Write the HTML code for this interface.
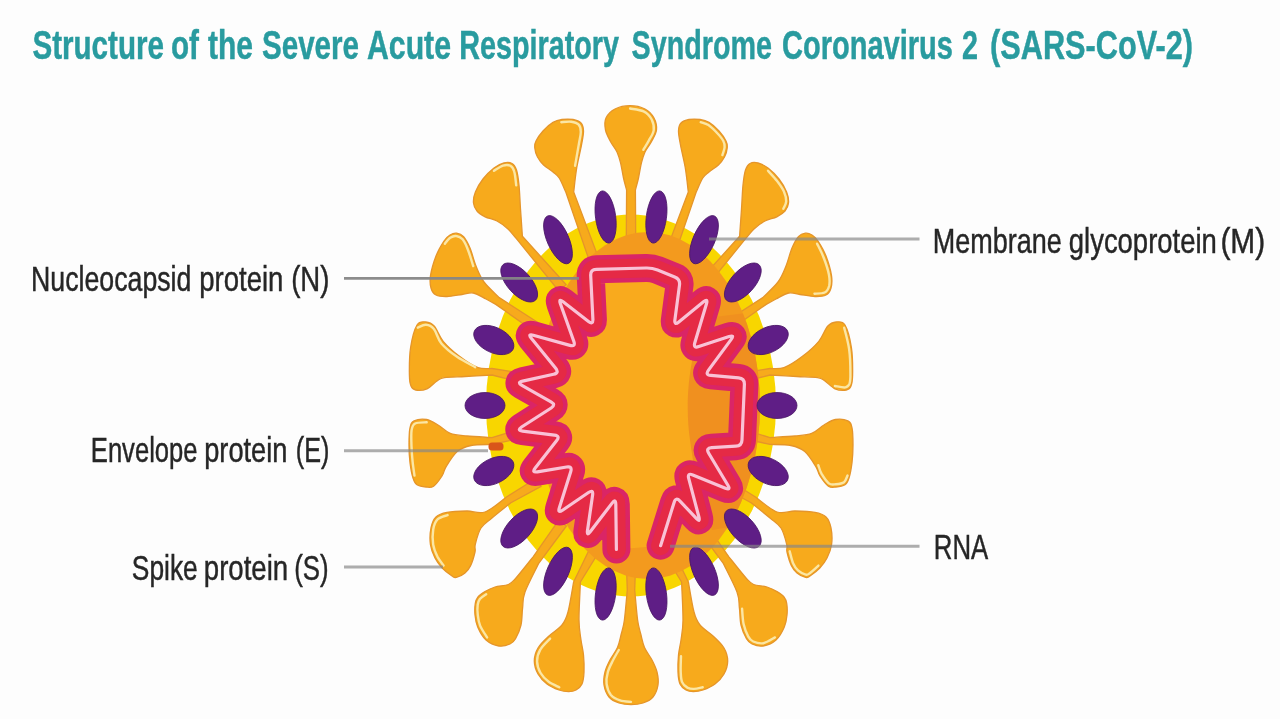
<!DOCTYPE html>
<html><head><meta charset="utf-8"><style>
html,body{margin:0;padding:0;background:#fdfdfd;}
body{width:1280px;height:719px;overflow:hidden;position:relative;}
svg{position:absolute;left:0;top:0;filter:blur(0.5px);}
.sp path{fill:#f7aa1c;stroke:#e5952a;stroke-width:1.3;stroke-linejoin:round;}
.sp path.hl{fill:none;stroke:#fbe6a4;stroke-width:2.4;stroke-linecap:round;stroke-linejoin:round;}
.pu ellipse{fill:#5f1e86;stroke:#4a1666;stroke-width:0.8;}
.lbl{font-family:"Liberation Sans",sans-serif;fill:#262626;stroke:#262626;stroke-width:0.45;font-size:34.5px;}
.ttl{font-family:"Liberation Sans",sans-serif;font-weight:bold;fill:#299b9f;stroke:#299b9f;stroke-width:0.5;font-size:41px;}
</style></head><body>
<svg width="1280" height="719" viewBox="0 0 1280 719">
<rect width="1280" height="719" fill="#fdfdfd"/>
<text class="ttl" x="32.4" y="58.5" textLength="131.6" lengthAdjust="spacingAndGlyphs">Structure</text>
<text class="ttl" x="171.0" y="58.5" textLength="28.0" lengthAdjust="spacingAndGlyphs">of</text>
<text class="ttl" x="208.0" y="58.5" textLength="45.0" lengthAdjust="spacingAndGlyphs">the</text>
<text class="ttl" x="262" y="58.5" textLength="97.0" lengthAdjust="spacingAndGlyphs">Severe</text>
<text class="ttl" x="367" y="58.5" textLength="84" lengthAdjust="spacingAndGlyphs">Acute</text>
<text class="ttl" x="459.2" y="58.5" textLength="159.8" lengthAdjust="spacingAndGlyphs">Respiratory</text>
<text class="ttl" x="631.6" y="58.5" textLength="140.4" lengthAdjust="spacingAndGlyphs">Syndrome</text>
<text class="ttl" x="782.0" y="58.5" textLength="171.0" lengthAdjust="spacingAndGlyphs">Coronavirus</text>
<text class="ttl" x="962" y="58.5" textLength="16.0" lengthAdjust="spacingAndGlyphs">2</text>
<text class="ttl" x="990" y="58.5" textLength="203.0" lengthAdjust="spacingAndGlyphs">(SARS-CoV-2)</text>
<defs><clipPath id="body"><ellipse cx="648" cy="405.5" rx="112" ry="173.5"/></clipPath></defs>
<g fill="#f8d600">
<ellipse cx="631.0" cy="405.5" rx="145" ry="191"/>
</g>
<g class="sp">
<path d="M 626.2 251.9 L 626.6 190.0 C 626.1 188.0 624.5 182.6 623.5 178.0 C 622.5 173.4 621.6 166.9 620.5 162.6 C 619.4 158.3 618.6 155.5 617.0 152.0 C 615.4 148.5 612.5 145.4 610.6 141.7 C 608.7 138.0 606.3 133.9 605.5 130.0 C 604.7 126.0 604.4 121.5 606.0 118.0 C 607.6 114.5 611.0 111.0 615.0 109.0 C 619.0 107.0 625.0 105.7 630.0 105.7 C 635.0 105.7 641.0 107.0 645.0 109.0 C 649.0 111.0 652.1 114.5 654.0 118.0 C 655.9 121.5 656.9 126.0 656.5 130.0 C 656.1 133.9 653.3 138.0 651.4 141.7 C 649.5 145.4 646.6 148.5 645.0 152.0 C 643.4 155.5 642.6 158.3 641.5 162.6 C 640.4 166.9 639.5 173.4 638.5 178.0 C 637.5 182.6 635.9 188.0 635.4 190.0 L 635.8 251.9 Z"/><path class="hl" d="M 630.1 108.5 C 632.3 109.0 640.0 109.6 643.6 111.4 C 647.2 113.2 650.0 116.4 651.7 119.5 C 653.3 122.7 654.2 126.8 653.7 130.3 C 653.2 133.9 650.5 137.4 648.8 140.6 C 647.1 143.9 644.2 148.3 643.3 149.8"/>
<path d="M 662.9 259.5 L 688.3 192.0 C 687.8 188.0 686.6 175.8 685.3 168.0 C 684.0 160.2 681.6 151.2 680.5 145.0 C 679.4 138.8 678.4 134.7 678.5 131.0 C 678.6 127.3 679.2 124.9 681.0 123.0 C 682.8 121.1 685.8 120.1 689.0 119.5 C 692.2 118.9 696.7 119.0 700.0 119.5 C 703.3 120.0 705.8 120.5 709.0 122.4 C 712.2 124.3 716.2 127.9 719.0 131.0 C 721.8 134.1 724.6 138.2 726.0 141.0 C 727.4 143.8 727.5 145.3 727.2 148.0 C 727.0 150.7 726.0 154.2 724.5 157.0 C 723.0 159.8 721.0 162.5 718.4 165.0 C 715.8 167.5 711.6 169.8 709.0 172.0 C 706.4 174.2 704.9 174.7 702.8 178.0 C 700.7 181.3 697.3 189.7 696.2 192.0 L 672.0 262.8 Z"/><path class="hl" d="M 700.7 122.2 C 702.0 122.7 705.7 123.4 708.4 125.1 C 711.0 126.8 714.1 129.9 716.6 132.5 C 719.1 135.1 721.9 138.4 723.2 140.8 C 724.5 143.2 724.7 144.6 724.6 147.0 C 724.5 149.4 722.8 153.8 722.4 155.1"/>
<path d="M 695.8 284.7 L 739.6 236.3 C 739.9 231.8 740.9 217.6 741.5 209.0 C 742.1 200.4 742.3 191.5 743.0 185.0 C 743.7 178.5 744.3 173.6 745.5 170.0 C 746.7 166.4 747.9 164.7 750.0 163.5 C 752.1 162.3 755.0 162.2 758.0 163.0 C 761.0 163.8 764.5 165.3 768.0 168.0 C 771.5 170.7 775.9 175.0 779.0 179.0 C 782.1 183.0 785.0 188.0 786.6 192.0 C 788.2 196.0 788.8 199.8 788.5 203.0 C 788.2 206.2 787.0 208.7 785.0 211.0 C 783.0 213.3 780.1 215.1 776.8 216.8 C 773.5 218.5 768.8 219.0 765.0 221.0 C 761.2 223.0 757.1 226.2 754.0 229.0 C 750.9 231.8 747.7 236.2 746.4 237.7 L 703.1 291.0 Z"/><path class="hl" d="M 768.0 170.8 C 769.4 172.5 774.2 177.4 776.9 180.8 C 779.5 184.2 782.3 188.0 783.9 191.5 C 785.4 194.9 786.3 198.5 786.2 201.4 C 786.1 204.3 783.8 207.5 783.3 208.8"/>
<path d="M 720.6 324.7 L 762.8 297.6 C 765.3 295.0 774.1 287.3 778.0 282.0 C 781.9 276.7 783.7 271.7 786.0 266.0 C 788.3 260.3 789.9 252.9 792.0 248.0 C 794.1 243.1 796.2 239.2 798.4 236.7 C 800.6 234.2 803.1 233.5 805.4 233.2 C 807.7 232.9 809.9 233.7 812.0 235.0 C 814.1 236.3 815.7 237.5 818.0 241.0 C 820.3 244.5 823.8 250.2 826.0 256.0 C 828.2 261.8 830.7 270.3 831.5 275.6 C 832.3 280.9 831.9 284.8 831.0 288.0 C 830.1 291.2 828.7 293.6 826.0 295.0 C 823.3 296.4 819.3 296.6 815.0 296.5 C 810.7 296.4 804.4 295.1 800.0 294.5 C 795.6 293.9 792.7 292.2 788.7 293.0 C 784.7 293.8 779.8 297.1 776.0 299.0 C 772.2 300.9 767.8 303.5 766.2 304.4 L 726.0 332.7 Z"/><path class="hl" d="M 817.1 243.7 C 818.2 246.0 821.7 252.4 823.6 257.5 C 825.6 262.6 828.0 269.7 828.9 274.5 C 829.8 279.2 829.8 283.0 829.1 286.0 C 828.3 289.0 827.1 291.3 824.6 292.5 C 822.2 293.8 816.2 293.5 814.5 293.7"/>
<path d="M 735.0 374.1 L 770.0 368.5 C 772.3 368.4 778.6 369.6 784.0 367.6 C 789.4 365.6 796.7 360.7 802.5 356.3 C 808.3 351.9 814.6 346.3 818.8 341.3 C 823.0 336.3 824.7 329.5 827.6 326.3 C 830.5 323.1 833.4 322.2 836.3 322.0 C 839.2 321.8 842.5 320.8 845.0 325.0 C 847.5 329.2 850.1 339.2 851.4 347.5 C 852.7 355.8 852.7 368.6 852.6 375.0 C 852.5 381.4 852.0 383.5 851.0 386.0 C 850.0 388.5 849.0 389.5 846.3 390.0 C 843.6 390.5 838.5 390.3 835.0 388.8 C 831.5 387.3 827.9 382.9 825.0 381.0 C 822.1 379.1 822.3 378.4 817.6 377.6 C 812.9 376.9 804.9 376.9 797.0 376.5 C 789.1 376.1 774.5 375.2 770.0 375.0 L 736.9 383.5 Z"/><path class="hl" d="M 844.2 327.7 C 845.0 331.2 848.1 341.5 849.1 349.1 C 850.2 356.7 850.4 367.5 850.4 373.2 C 850.5 379.0 850.3 381.3 849.5 383.6 C 848.6 386.0 847.7 387.0 845.3 387.4 C 842.8 387.8 836.6 386.2 834.9 386.0"/>
<path d="M 737.1 427.5 L 770.0 437.6 C 774.2 437.3 788.0 436.7 795.0 436.0 C 802.0 435.3 806.9 435.2 811.7 433.4 C 816.5 431.6 820.0 427.3 824.0 425.0 C 828.0 422.7 831.4 420.2 835.4 419.5 C 839.4 418.8 845.1 419.5 847.9 420.9 C 850.7 422.3 851.1 423.8 852.0 427.8 C 852.9 431.8 853.0 439.2 853.0 445.0 C 853.0 450.8 852.7 457.1 852.0 462.6 C 851.3 468.1 850.2 474.3 849.0 478.0 C 847.8 481.7 847.2 483.3 845.0 484.8 C 842.8 486.3 838.8 486.8 836.0 487.0 C 833.2 487.2 831.1 488.0 828.4 486.2 C 825.7 484.4 822.1 479.2 820.0 476.0 C 817.9 472.8 818.5 470.9 816.0 466.8 C 813.5 462.7 809.0 455.1 804.8 451.5 C 800.6 447.9 796.7 446.7 790.9 445.5 C 785.1 444.3 773.5 444.6 770.0 444.4 L 734.7 436.8 Z"/><path class="hl" d="M 847.5 475.6 C 846.9 476.7 846.0 480.7 844.0 482.2 C 842.1 483.6 838.3 484.0 835.8 484.2 C 833.3 484.4 831.3 485.2 828.9 483.4 C 826.5 481.7 823.3 476.7 821.5 473.7 C 819.8 470.6 818.9 466.6 818.3 465.2"/>
<path d="M 725.7 478.2 L 755.9 497.3 C 759.4 499.7 770.5 509.7 777.0 512.0 C 783.5 514.3 788.7 510.9 795.0 511.0 C 801.3 511.1 809.8 511.4 815.0 512.4 C 820.2 513.4 823.3 514.4 826.0 517.0 C 828.7 519.6 830.1 523.5 831.0 528.0 C 831.9 532.5 832.3 539.3 831.6 544.3 C 830.9 549.3 829.0 554.0 827.0 558.0 C 825.0 562.0 822.6 565.0 819.8 568.0 C 817.0 571.0 812.4 574.4 810.0 576.0 C 807.6 577.6 807.8 577.9 805.6 577.4 C 803.4 576.9 799.4 575.0 797.0 573.0 C 794.6 571.0 793.1 569.1 791.4 565.6 C 789.7 562.1 787.8 555.5 787.0 552.0 C 786.2 548.5 787.7 548.3 786.7 544.3 C 785.7 540.3 783.8 532.4 781.0 528.0 C 778.2 523.6 775.0 522.2 770.0 518.0 C 765.0 513.8 754.3 505.3 751.1 502.7 L 720.9 486.4 Z"/><path class="hl" d="M 818.4 565.6 C 817.0 566.9 811.9 571.7 809.8 573.2 C 807.7 574.7 807.7 575.1 805.8 574.6 C 803.8 574.1 800.1 572.3 798.0 570.4 C 795.9 568.5 794.6 566.7 793.2 563.5 C 791.8 560.3 790.3 553.3 789.7 551.3"/>
<path d="M 703.4 520.4 L 728.7 556.6 C 731.6 560.2 741.9 573.4 746.0 578.0 C 750.1 582.6 750.1 583.0 753.6 584.5 C 757.1 586.0 763.1 585.8 767.0 587.0 C 770.9 588.2 774.2 589.9 777.0 591.6 C 779.8 593.3 782.4 595.0 784.0 597.0 C 785.6 599.0 786.2 600.4 786.7 603.4 C 787.2 606.4 787.4 611.1 787.0 615.0 C 786.6 618.9 786.1 622.8 784.3 627.0 C 782.5 631.2 779.5 636.8 776.0 640.0 C 772.5 643.2 767.0 645.3 763.0 646.0 C 759.0 646.7 754.8 645.2 752.0 644.0 C 749.2 642.8 748.3 642.0 746.5 638.8 C 744.7 635.6 742.2 630.1 741.0 625.0 C 739.8 619.9 740.1 613.5 739.4 608.0 C 738.7 602.5 739.7 599.4 737.0 592.0 C 734.3 584.6 725.6 568.2 723.3 563.4 L 695.6 526.0 Z"/><path class="hl" d="M 774.9 637.4 C 773.0 638.4 766.9 642.5 763.3 643.2 C 759.7 643.9 755.7 642.6 753.2 641.5 C 750.8 640.4 749.9 639.6 748.3 636.7 C 746.7 633.8 744.7 628.7 743.6 624.0 C 742.6 619.4 742.3 611.3 742.1 608.8"/>
<path d="M 671.7 547.5 L 688.4 582.0 C 689.3 587.0 692.1 604.8 694.0 612.0 C 695.9 619.2 696.8 621.0 700.0 625.0 C 703.2 629.0 709.0 632.2 713.0 636.0 C 717.0 639.8 721.5 643.8 724.0 648.0 C 726.5 652.2 727.7 656.7 727.7 661.0 C 727.7 665.3 726.1 670.2 724.0 674.0 C 721.9 677.8 718.5 681.3 715.0 684.0 C 711.5 686.7 706.6 688.7 703.0 690.0 C 699.4 691.3 696.1 691.6 693.3 691.6 C 690.5 691.6 688.2 691.3 686.0 690.0 C 683.8 688.7 681.3 687.0 680.0 684.0 C 678.7 681.0 678.2 676.8 678.0 672.0 C 677.8 667.2 678.0 660.3 678.5 655.0 C 679.0 649.7 680.2 645.8 681.0 640.0 C 681.8 634.2 682.9 629.7 683.0 620.0 C 683.1 610.3 681.8 588.3 681.6 582.0 L 663.2 552.1 Z"/><path class="hl" d="M 702.7 687.2 C 701.2 687.5 696.6 688.8 694.0 688.9 C 691.5 689.0 689.4 688.7 687.4 687.6 C 685.4 686.4 683.2 684.8 682.1 682.1 C 680.9 679.4 680.9 675.5 680.7 671.2 C 680.5 666.9 681.0 658.7 681.0 656.2"/>
<path d="M 635.8 559.1 L 634.7 590.0 C 635.2 595.0 636.6 612.5 637.6 620.0 C 638.6 627.5 639.9 630.4 641.0 635.0 C 642.1 639.6 642.7 643.3 644.5 647.5 C 646.3 651.7 649.9 655.9 652.0 660.0 C 654.1 664.1 656.0 667.8 657.0 672.0 C 658.0 676.2 658.7 680.8 658.0 685.0 C 657.3 689.2 655.5 694.0 653.0 697.0 C 650.5 700.0 646.7 701.7 643.0 703.0 C 639.3 704.3 635.0 704.7 631.0 704.7 C 627.0 704.7 622.7 704.3 619.0 703.0 C 615.3 701.7 611.5 700.0 609.0 697.0 C 606.5 694.0 604.7 689.2 604.0 685.0 C 603.3 680.8 604.0 676.2 605.0 672.0 C 606.0 667.8 607.9 664.1 610.0 660.0 C 612.1 655.9 615.7 651.7 617.5 647.5 C 619.3 643.3 619.9 639.6 621.0 635.0 C 622.1 630.4 623.4 627.5 624.4 620.0 C 625.4 612.5 626.8 595.0 627.3 590.0 L 626.2 559.1 Z"/><path class="hl" d="M 631.0 701.9 C 629.2 701.7 623.4 701.6 620.1 700.4 C 616.7 699.3 613.2 697.7 610.9 695.0 C 608.7 692.2 607.1 687.7 606.6 683.9 C 606.1 680.1 606.8 675.9 607.8 672.2 C 608.8 668.4 610.5 665.2 612.4 661.5 C 614.2 657.8 617.7 651.9 618.8 650.0"/>
<path d="M 590.0 262.8 L 565.8 192.0 C 564.7 189.7 561.3 181.3 559.2 178.0 C 557.1 174.7 555.6 174.2 553.0 172.0 C 550.4 169.8 546.2 167.5 543.6 165.0 C 541.0 162.5 539.0 159.8 537.5 157.0 C 536.0 154.2 535.0 150.7 534.8 148.0 C 534.5 145.3 534.6 143.8 536.0 141.0 C 537.4 138.2 540.2 134.1 543.0 131.0 C 545.8 127.9 549.8 124.3 553.0 122.4 C 556.2 120.5 558.7 120.0 562.0 119.5 C 565.3 119.0 569.8 118.9 573.0 119.5 C 576.2 120.1 579.2 121.1 581.0 123.0 C 582.8 124.9 583.4 127.3 583.5 131.0 C 583.6 134.7 582.6 138.8 581.5 145.0 C 580.4 151.2 578.0 160.2 576.7 168.0 C 575.4 175.8 574.2 188.0 573.7 192.0 L 599.1 259.5 Z"/><path class="hl" d="M 561.3 122.2 C 563.0 122.1 568.3 121.3 571.2 121.7 C 574.1 122.1 577.1 122.9 578.7 124.6 C 580.3 126.3 580.8 128.6 580.8 131.9 C 580.8 135.2 579.7 138.8 578.8 144.4 C 577.8 150.0 575.7 162.2 575.1 165.7"/>
<path d="M 558.9 291.0 L 515.6 237.7 C 514.3 236.2 511.1 231.8 508.0 229.0 C 504.9 226.2 500.8 223.0 497.0 221.0 C 493.2 219.0 488.5 218.5 485.2 216.8 C 481.9 215.1 478.9 213.3 477.0 211.0 C 475.1 208.7 473.8 206.2 473.5 203.0 C 473.2 199.8 473.8 196.0 475.4 192.0 C 477.0 188.0 479.9 183.0 483.0 179.0 C 486.1 175.0 490.5 170.7 494.0 168.0 C 497.5 165.3 501.0 163.8 504.0 163.0 C 507.0 162.2 509.9 162.3 512.0 163.5 C 514.1 164.7 515.3 166.4 516.5 170.0 C 517.7 173.6 518.3 178.5 519.0 185.0 C 519.7 191.5 519.9 200.4 520.5 209.0 C 521.1 217.6 522.1 231.8 522.4 236.3 L 566.2 284.7 Z"/><path class="hl" d="M 494.0 170.8 C 495.5 169.9 500.3 166.5 503.0 165.6 C 505.7 164.8 508.5 164.8 510.4 165.8 C 512.3 166.8 513.4 168.5 514.3 171.8 C 515.3 175.1 515.9 183.1 516.2 185.4"/>
<path d="M 536.0 332.7 L 495.8 304.4 C 494.2 303.5 489.8 300.9 486.0 299.0 C 482.2 297.1 477.3 293.8 473.3 293.0 C 469.3 292.2 466.4 293.9 462.0 294.5 C 457.6 295.1 451.3 296.4 447.0 296.5 C 442.7 296.6 438.7 296.4 436.0 295.0 C 433.3 293.6 431.9 291.2 431.0 288.0 C 430.1 284.8 429.7 280.9 430.5 275.6 C 431.3 270.3 433.8 261.8 436.0 256.0 C 438.2 250.2 441.7 244.5 444.0 241.0 C 446.3 237.5 447.9 236.3 450.0 235.0 C 452.1 233.7 454.3 232.9 456.6 233.2 C 458.9 233.5 461.4 234.2 463.6 236.7 C 465.8 239.2 467.9 243.1 470.0 248.0 C 472.1 252.9 473.7 260.3 476.0 266.0 C 478.3 271.7 480.1 276.7 484.0 282.0 C 487.9 287.3 496.7 295.0 499.2 297.6 L 541.4 324.7 Z"/><path class="hl" d="M 444.9 243.7 C 445.7 242.7 448.3 239.1 450.2 237.8 C 452.1 236.5 454.1 235.7 456.2 236.0 C 458.3 236.2 460.6 237.0 462.6 239.3 C 464.5 241.6 466.3 245.5 468.0 250.0 C 469.8 254.4 472.3 263.3 473.2 266.0"/>
<path d="M 525.1 383.5 L 492.0 375.0 C 487.5 375.2 472.9 376.1 465.0 376.5 C 457.1 376.9 449.1 376.9 444.4 377.6 C 439.7 378.4 439.9 379.1 437.0 381.0 C 434.1 382.9 430.6 387.3 427.0 388.8 C 423.4 390.3 418.4 390.5 415.7 390.0 C 413.0 389.5 412.1 388.5 411.0 386.0 C 409.9 383.5 409.5 381.4 409.4 375.0 C 409.3 368.6 409.3 355.8 410.6 347.5 C 411.9 339.2 414.5 329.2 417.0 325.0 C 419.5 320.8 422.8 321.8 425.7 322.0 C 428.6 322.2 431.5 323.1 434.4 326.3 C 437.3 329.5 439.0 336.3 443.2 341.3 C 447.4 346.3 453.7 351.9 459.5 356.3 C 465.3 360.7 472.6 365.6 478.0 367.6 C 483.4 369.6 489.7 368.4 492.0 368.5 L 527.0 374.1 Z"/><path class="hl" d="M 417.8 327.7 C 419.2 327.2 423.2 324.6 425.9 324.8 C 428.5 325.0 431.3 325.9 433.9 329.0 C 436.5 332.2 437.6 338.9 441.4 343.5 C 445.2 348.0 451.1 352.7 456.7 356.6 C 462.4 360.6 472.1 365.4 475.2 367.2"/>
<path d="M 527.3 436.8 L 492.0 444.4 C 488.5 444.6 476.9 444.3 471.1 445.5 C 465.3 446.7 461.4 447.9 457.2 451.5 C 453.0 455.1 448.5 462.7 446.0 466.8 C 443.5 470.9 444.1 472.8 442.0 476.0 C 439.9 479.2 436.3 484.4 433.6 486.2 C 430.9 488.0 428.8 487.2 426.0 487.0 C 423.2 486.8 419.2 486.3 417.0 484.8 C 414.8 483.3 414.2 481.7 413.0 478.0 C 411.8 474.3 410.7 468.1 410.0 462.6 C 409.3 457.1 409.0 450.8 409.0 445.0 C 409.0 439.2 409.1 431.8 410.0 427.8 C 410.9 423.8 411.3 422.3 414.1 420.9 C 416.9 419.5 422.6 418.8 426.6 419.5 C 430.6 420.2 434.1 422.7 438.0 425.0 C 441.9 427.3 445.5 431.6 450.3 433.4 C 455.1 435.2 460.1 435.3 467.0 436.0 C 473.9 436.7 487.8 437.3 492.0 437.6 L 524.9 427.5 Z"/><path class="hl" d="M 414.5 475.6 C 414.2 473.3 413.1 466.4 412.6 461.5 C 412.1 456.6 411.7 451.5 411.5 446.3 C 411.3 441.0 411.0 433.9 411.6 430.1 C 412.2 426.3 412.6 424.8 415.2 423.5 C 417.7 422.2 424.8 422.5 426.7 422.3"/>
<path d="M 541.1 486.4 L 510.9 502.7 C 507.7 505.3 497.0 513.8 492.0 518.0 C 487.0 522.2 483.8 523.6 481.0 528.0 C 478.2 532.4 476.3 540.3 475.3 544.3 C 474.3 548.3 475.8 548.5 475.0 552.0 C 474.2 555.5 472.3 562.1 470.6 565.6 C 468.9 569.1 467.4 571.0 465.0 573.0 C 462.6 575.0 458.6 576.9 456.4 577.4 C 454.2 577.9 454.4 577.6 452.0 576.0 C 449.6 574.4 445.0 571.0 442.2 568.0 C 439.4 565.0 437.0 562.0 435.0 558.0 C 433.0 554.0 431.1 549.3 430.4 544.3 C 429.7 539.3 430.1 532.5 431.0 528.0 C 431.9 523.5 433.3 519.6 436.0 517.0 C 438.7 514.4 441.8 513.4 447.0 512.4 C 452.2 511.4 460.7 511.1 467.0 511.0 C 473.3 510.9 478.5 514.3 485.0 512.0 C 491.5 509.7 502.6 499.7 506.1 497.3 L 536.3 478.2 Z"/><path class="hl" d="M 443.6 565.6 C 442.6 564.1 439.2 560.1 437.4 556.6 C 435.7 553.1 433.9 549.1 433.2 544.6 C 432.5 540.1 432.5 533.9 433.2 529.7 C 433.9 525.5 435.1 521.8 437.5 519.4 C 439.9 516.9 445.9 515.8 447.6 515.1"/>
<path d="M 566.4 526.0 L 538.7 563.4 C 536.4 568.2 527.7 584.6 525.0 592.0 C 522.3 599.4 523.3 602.5 522.6 608.0 C 521.9 613.5 522.2 619.9 521.0 625.0 C 519.8 630.1 517.3 635.6 515.5 638.8 C 513.7 642.0 512.8 642.8 510.0 644.0 C 507.2 645.2 503.0 646.7 499.0 646.0 C 495.0 645.3 489.6 643.2 486.0 640.0 C 482.4 636.8 479.5 631.2 477.7 627.0 C 475.9 622.8 475.4 618.9 475.0 615.0 C 474.6 611.1 474.8 606.4 475.3 603.4 C 475.8 600.4 476.4 599.0 478.0 597.0 C 479.6 595.0 482.2 593.3 485.0 591.6 C 487.8 589.9 491.1 588.2 495.0 587.0 C 498.9 585.8 504.9 586.0 508.4 584.5 C 511.9 583.0 511.9 582.6 516.0 578.0 C 520.1 573.4 530.4 560.2 533.3 556.6 L 558.6 520.4 Z"/><path class="hl" d="M 487.1 637.4 C 485.9 635.4 481.6 629.3 480.1 625.6 C 478.6 621.8 478.2 618.6 477.8 615.1 C 477.4 611.7 477.3 607.5 477.7 604.8 C 478.1 602.2 478.5 600.8 479.9 599.0 C 481.3 597.2 485.1 595.0 486.2 594.2"/>
<path d="M 598.8 552.1 L 580.4 582.0 C 580.2 588.3 578.9 610.3 579.0 620.0 C 579.1 629.7 580.2 634.2 581.0 640.0 C 581.8 645.8 583.0 649.7 583.5 655.0 C 584.0 660.3 584.2 667.2 584.0 672.0 C 583.8 676.8 583.3 681.0 582.0 684.0 C 580.7 687.0 578.2 688.7 576.0 690.0 C 573.8 691.3 571.5 691.6 568.7 691.6 C 565.9 691.6 562.6 691.3 559.0 690.0 C 555.4 688.7 550.5 686.7 547.0 684.0 C 543.5 681.3 540.1 677.8 538.0 674.0 C 535.9 670.2 534.3 665.3 534.3 661.0 C 534.3 656.7 535.5 652.2 538.0 648.0 C 540.5 643.8 545.0 639.8 549.0 636.0 C 553.0 632.2 558.8 629.0 562.0 625.0 C 565.2 621.0 566.1 619.2 568.0 612.0 C 569.9 604.8 572.7 587.0 573.6 582.0 L 590.3 547.5 Z"/><path class="hl" d="M 559.3 687.2 C 557.5 686.3 551.9 684.2 548.7 681.8 C 545.6 679.4 542.6 676.4 540.6 673.0 C 538.7 669.7 537.1 665.3 537.1 661.4 C 537.0 657.5 538.1 653.5 540.3 649.7 C 542.4 645.8 548.5 640.4 550.1 638.6"/>
</g>
<ellipse cx="648" cy="405.5" rx="112" ry="173.5" fill="#f39a1e"/>
<path d="M 616.4 549.5 L 615.8 504.3 Q 615.7 498.3 612.1 503.1 L 590.2 531.7 Q 586.6 536.5 587.5 530.6 L 592.6 495.0 Q 593.5 489.1 588.5 492.5 L 562.5 510.2 Q 557.5 513.6 559.3 507.9 L 570.7 471.7 Q 572.5 466.0 566.6 467.0 L 537.4 471.8 Q 531.5 472.8 535.2 468.1 L 556.7 440.6 Q 560.4 435.9 554.4 435.1 L 522.6 431.1 Q 516.6 430.3 521.6 427.0 L 551.2 408.0 Q 556.2 404.7 551.0 401.8 L 521.9 385.3 Q 516.7 382.4 522.6 381.1 L 553.6 374.3 Q 559.5 373.0 555.7 368.3 L 531.3 338.3 Q 527.5 333.6 533.3 335.2 L 570.0 345.4 Q 575.8 347.0 573.8 341.3 L 560.4 303.7 Q 558.4 298.0 563.1 301.7 L 588.5 321.4 Q 593.2 325.1 592.9 319.1 L 590.7 275.5 Q 590.4 269.5 596.4 269.3 L 646.0 268.0 Q 652.0 267.8 657.6 270.0 L 674.7 277.0 Q 680.3 279.2 679.5 285.1 L 674.9 319.9 Q 674.1 325.8 678.8 322.0 L 703.5 301.8 Q 708.2 298.0 706.5 303.7 L 694.8 342.8 Q 693.1 348.5 698.8 346.6 L 729.1 336.5 Q 734.8 334.6 731.2 339.4 L 708.5 370.1 Q 704.9 374.9 710.9 375.4 L 738.6 377.9 Q 744.6 378.4 744.4 384.4 L 742.0 439.9 Q 741.8 445.9 735.8 446.2 L 711.6 447.7 Q 705.6 448.0 708.7 453.2 L 727.9 485.3 Q 731.0 490.5 725.4 488.2 L 692.8 474.9 Q 687.2 472.6 688.7 478.4 L 698.9 517.0 Q 700.4 522.8 696.3 518.4 L 680.0 501.1 Q 675.9 496.7 674.1 502.4 L 660.6 545.7 Z" fill="#f9aa1d"/>
<path clip-path="url(#body)" d="M 706 318 C 690 350 684 400 690 440 C 694 470 700 500 712 530 L 770 520 L 770 310 Z" fill="#f0901f"/>
<path d="M 616.4 549.5 L 615.8 504.3 Q 615.7 498.3 612.1 503.1 L 590.2 531.7 Q 586.6 536.5 587.5 530.6 L 592.6 495.0 Q 593.5 489.1 588.5 492.5 L 562.5 510.2 Q 557.5 513.6 559.3 507.9 L 570.7 471.7 Q 572.5 466.0 566.6 467.0 L 537.4 471.8 Q 531.5 472.8 535.2 468.1 L 556.7 440.6 Q 560.4 435.9 554.4 435.1 L 522.6 431.1 Q 516.6 430.3 521.6 427.0 L 551.2 408.0 Q 556.2 404.7 551.0 401.8 L 521.9 385.3 Q 516.7 382.4 522.6 381.1 L 553.6 374.3 Q 559.5 373.0 555.7 368.3 L 531.3 338.3 Q 527.5 333.6 533.3 335.2 L 570.0 345.4 Q 575.8 347.0 573.8 341.3 L 560.4 303.7 Q 558.4 298.0 563.1 301.7 L 588.5 321.4 Q 593.2 325.1 592.9 319.1 L 590.7 275.5 Q 590.4 269.5 596.4 269.3 L 646.0 268.0 Q 652.0 267.8 657.6 270.0 L 674.7 277.0 Q 680.3 279.2 679.5 285.1 L 674.9 319.9 Q 674.1 325.8 678.8 322.0 L 703.5 301.8 Q 708.2 298.0 706.5 303.7 L 694.8 342.8 Q 693.1 348.5 698.8 346.6 L 729.1 336.5 Q 734.8 334.6 731.2 339.4 L 708.5 370.1 Q 704.9 374.9 710.9 375.4 L 738.6 377.9 Q 744.6 378.4 744.4 384.4 L 742.0 439.9 Q 741.8 445.9 735.8 446.2 L 711.6 447.7 Q 705.6 448.0 708.7 453.2 L 727.9 485.3 Q 731.0 490.5 725.4 488.2 L 692.8 474.9 Q 687.2 472.6 688.7 478.4 L 698.9 517.0 Q 700.4 522.8 696.3 518.4 L 680.0 501.1 Q 675.9 496.7 674.1 502.4 L 660.6 545.7" fill="none" stroke="#da2566" stroke-width="28" stroke-linejoin="round" stroke-linecap="round"/>
<path d="M 616.4 549.5 L 615.8 504.3 Q 615.7 498.3 612.1 503.1 L 590.2 531.7 Q 586.6 536.5 587.5 530.6 L 592.6 495.0 Q 593.5 489.1 588.5 492.5 L 562.5 510.2 Q 557.5 513.6 559.3 507.9 L 570.7 471.7 Q 572.5 466.0 566.6 467.0 L 537.4 471.8 Q 531.5 472.8 535.2 468.1 L 556.7 440.6 Q 560.4 435.9 554.4 435.1 L 522.6 431.1 Q 516.6 430.3 521.6 427.0 L 551.2 408.0 Q 556.2 404.7 551.0 401.8 L 521.9 385.3 Q 516.7 382.4 522.6 381.1 L 553.6 374.3 Q 559.5 373.0 555.7 368.3 L 531.3 338.3 Q 527.5 333.6 533.3 335.2 L 570.0 345.4 Q 575.8 347.0 573.8 341.3 L 560.4 303.7 Q 558.4 298.0 563.1 301.7 L 588.5 321.4 Q 593.2 325.1 592.9 319.1 L 590.7 275.5 Q 590.4 269.5 596.4 269.3 L 646.0 268.0 Q 652.0 267.8 657.6 270.0 L 674.7 277.0 Q 680.3 279.2 679.5 285.1 L 674.9 319.9 Q 674.1 325.8 678.8 322.0 L 703.5 301.8 Q 708.2 298.0 706.5 303.7 L 694.8 342.8 Q 693.1 348.5 698.8 346.6 L 729.1 336.5 Q 734.8 334.6 731.2 339.4 L 708.5 370.1 Q 704.9 374.9 710.9 375.4 L 738.6 377.9 Q 744.6 378.4 744.4 384.4 L 742.0 439.9 Q 741.8 445.9 735.8 446.2 L 711.6 447.7 Q 705.6 448.0 708.7 453.2 L 727.9 485.3 Q 731.0 490.5 725.4 488.2 L 692.8 474.9 Q 687.2 472.6 688.7 478.4 L 698.9 517.0 Q 700.4 522.8 696.3 518.4 L 680.0 501.1 Q 675.9 496.7 674.1 502.4 L 660.6 545.7" fill="none" stroke="#e52a45" stroke-width="19" stroke-linejoin="round" stroke-linecap="round"/>
<path d="M 616.4 549.5 L 615.8 504.3 Q 615.7 498.3 612.1 503.1 L 590.2 531.7 Q 586.6 536.5 587.5 530.6 L 592.6 495.0 Q 593.5 489.1 588.5 492.5 L 562.5 510.2 Q 557.5 513.6 559.3 507.9 L 570.7 471.7 Q 572.5 466.0 566.6 467.0 L 537.4 471.8 Q 531.5 472.8 535.2 468.1 L 556.7 440.6 Q 560.4 435.9 554.4 435.1 L 522.6 431.1 Q 516.6 430.3 521.6 427.0 L 551.2 408.0 Q 556.2 404.7 551.0 401.8 L 521.9 385.3 Q 516.7 382.4 522.6 381.1 L 553.6 374.3 Q 559.5 373.0 555.7 368.3 L 531.3 338.3 Q 527.5 333.6 533.3 335.2 L 570.0 345.4 Q 575.8 347.0 573.8 341.3 L 560.4 303.7 Q 558.4 298.0 563.1 301.7 L 588.5 321.4 Q 593.2 325.1 592.9 319.1 L 590.7 275.5 Q 590.4 269.5 596.4 269.3 L 646.0 268.0 Q 652.0 267.8 657.6 270.0 L 674.7 277.0 Q 680.3 279.2 679.5 285.1 L 674.9 319.9 Q 674.1 325.8 678.8 322.0 L 703.5 301.8 Q 708.2 298.0 706.5 303.7 L 694.8 342.8 Q 693.1 348.5 698.8 346.6 L 729.1 336.5 Q 734.8 334.6 731.2 339.4 L 708.5 370.1 Q 704.9 374.9 710.9 375.4 L 738.6 377.9 Q 744.6 378.4 744.4 384.4 L 742.0 439.9 Q 741.8 445.9 735.8 446.2 L 711.6 447.7 Q 705.6 448.0 708.7 453.2 L 727.9 485.3 Q 731.0 490.5 725.4 488.2 L 692.8 474.9 Q 687.2 472.6 688.7 478.4 L 698.9 517.0 Q 700.4 522.8 696.3 518.4 L 680.0 501.1 Q 675.9 496.7 674.1 502.4 L 660.6 545.7" fill="none" stroke="#f9c2d6" stroke-width="3.2" stroke-linejoin="round" stroke-linecap="round"/>
<g class="pu">
<ellipse cx="656.4" cy="217.0" rx="10.1" ry="26.3" transform="rotate(7.7 656.4 217.0)"/>
<ellipse cx="704.0" cy="239.7" rx="10.8" ry="25.9" transform="rotate(23.8 704.0 239.7)"/>
<ellipse cx="742.8" cy="282.5" rx="11.8" ry="24.1" transform="rotate(42.3 742.8 282.5)"/>
<ellipse cx="768.2" cy="340.0" rx="12.6" ry="21.4" transform="rotate(64.5 768.2 340.0)"/>
<ellipse cx="777.0" cy="405.5" rx="13.0" ry="20.0" transform="rotate(90.0 777.0 405.5)"/>
<ellipse cx="768.2" cy="471.0" rx="12.6" ry="21.4" transform="rotate(115.5 768.2 471.0)"/>
<ellipse cx="742.8" cy="528.5" rx="11.8" ry="24.1" transform="rotate(137.7 742.8 528.5)"/>
<ellipse cx="704.0" cy="571.3" rx="10.8" ry="25.9" transform="rotate(156.2 704.0 571.3)"/>
<ellipse cx="656.4" cy="594.0" rx="10.1" ry="26.3" transform="rotate(172.3 656.4 594.0)"/>
<ellipse cx="605.6" cy="594.0" rx="10.1" ry="26.3" transform="rotate(187.7 605.6 594.0)"/>
<ellipse cx="558.0" cy="571.3" rx="10.8" ry="25.9" transform="rotate(203.8 558.0 571.3)"/>
<ellipse cx="519.2" cy="528.5" rx="11.8" ry="24.1" transform="rotate(222.3 519.2 528.5)"/>
<ellipse cx="493.8" cy="471.0" rx="12.6" ry="21.4" transform="rotate(244.5 493.8 471.0)"/>
<ellipse cx="485.0" cy="405.5" rx="13.0" ry="20.0" transform="rotate(270.0 485.0 405.5)"/>
<ellipse cx="493.8" cy="340.0" rx="12.6" ry="21.4" transform="rotate(-64.5 493.8 340.0)"/>
<ellipse cx="519.2" cy="282.5" rx="11.8" ry="24.1" transform="rotate(-42.3 519.2 282.5)"/>
<ellipse cx="558.0" cy="239.7" rx="10.8" ry="25.9" transform="rotate(-23.8 558.0 239.7)"/>
<ellipse cx="605.6" cy="217.0" rx="10.1" ry="26.3" transform="rotate(-7.7 605.6 217.0)"/>
</g>
<rect x="488.5" y="442.5" width="15" height="8" rx="3.5" fill="#d9551a"/>
<g stroke="#868686" stroke-width="3" stroke-opacity="0.68">
<line x1="344" y1="278.4" x2="579" y2="278.4" stroke-opacity="0.95" stroke-width="2.6"/>
<line x1="709" y1="239" x2="919.5" y2="239"/>
<line x1="344" y1="450.8" x2="488" y2="450.8"/>
<line x1="344" y1="567" x2="443" y2="567"/>
<line x1="670" y1="546.2" x2="919.5" y2="546.2"/>
</g>
<text class="lbl" x="31.0" y="290.6" textLength="160.4" lengthAdjust="spacingAndGlyphs">Nucleocapsid</text>
<text class="lbl" x="199.2" y="290.6" textLength="84.2" lengthAdjust="spacingAndGlyphs">protein</text>
<text class="lbl" x="291.2" y="290.6" textLength="38.2" lengthAdjust="spacingAndGlyphs">(N)</text>
<text class="lbl" x="90.8" y="461.6" textLength="106.8" lengthAdjust="spacingAndGlyphs">Envelope</text>
<text class="lbl" x="204.2" y="461.6" textLength="83.2" lengthAdjust="spacingAndGlyphs">protein</text>
<text class="lbl" x="295.8" y="461.6" textLength="33.6" lengthAdjust="spacingAndGlyphs">(E)</text>
<text class="lbl" x="131.8" y="580" textLength="66.0" lengthAdjust="spacingAndGlyphs">Spike</text>
<text class="lbl" x="203.8" y="580" textLength="84.4" lengthAdjust="spacingAndGlyphs">protein</text>
<text class="lbl" x="294.2" y="580" textLength="34.4" lengthAdjust="spacingAndGlyphs">(S)</text>
<text class="lbl" x="932.8" y="252.5" textLength="129.0" lengthAdjust="spacingAndGlyphs">Membrane</text>
<text class="lbl" x="1068.8" y="252.5" textLength="148.0" lengthAdjust="spacingAndGlyphs">glycoprotein</text>
<text class="lbl" x="1220.4" y="252.5" textLength="44.8" lengthAdjust="spacingAndGlyphs">(M)</text>
<text class="lbl" x="933.8" y="559" textLength="54.4" lengthAdjust="spacingAndGlyphs">RNA</text>
</svg>
</body></html>
